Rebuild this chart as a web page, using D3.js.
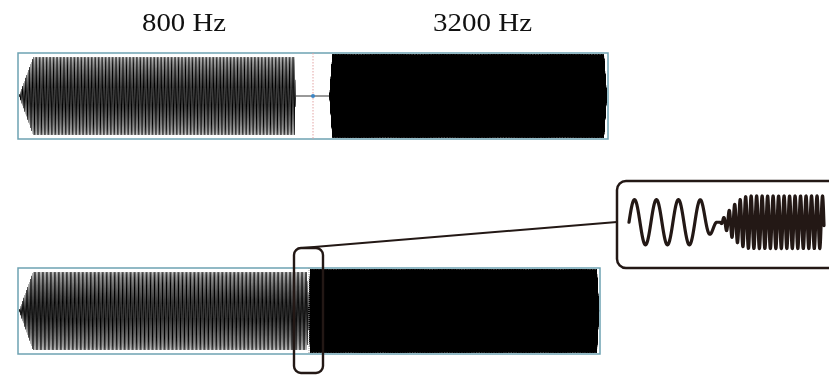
<!DOCTYPE html>
<html>
<head>
<meta charset="utf-8">
<script src="https://cdn.jsdelivr.net/npm/d3@7"></script>
<style>
  html, body { margin: 0; padding: 0; background: #fff; }
  #wrap { position: relative; width: 829px; height: 378px; overflow: hidden; }
  #wave, #chart { position: absolute; left: 0; top: 0; }
</style>
</head>
<body>
<div id="wrap">
  <canvas id="wave" width="829" height="378"></canvas>
  <svg id="chart" width="829" height="378"></svg>
</div>
<script>
// ---- tones ----
const toneLabels = ["800 Hz", "3200 Hz"];
const toneFreqs = [800, 3200];          // Hz
const sampleRate = 44100;               // samples per second
const trackSeconds = 2.0;               // length of each track
const cursorSeconds = 1.0;              // edit point

// upper track: the two tones placed one after the other with silence between (s)
const splitStart   = [0.003, 1.055];
const splitEnd     = [0.942, 1.997];
const splitFadeIn  = [0.048, 0.010];
const splitFadeOut = [0.004, 0.010];
const splitGain    = [0.90, 0.98];

// lower track: the same tones joined by a short crossfade (s)
const joinStart   = [0.003, 0.997];
const joinEnd     = [1.000, 1.998];
const joinFadeIn  = [0.048, 0.006];
const joinFadeOut = [0.006, 0.008];
const joinGain    = [0.90, 0.98];

// close-up of the crossfade (ms)
const detailSpan    = [0, 11.1];
const detailStart   = [0.0, 5.2];
const detailEnd     = [5.0, 11.1];
const detailFadeIn  = [0.0, 1.7];
const detailFadeOut = [1.0, 0.0];
const detailGain    = [0.86, 1.0];

const ink = "#231815";

// ---- helpers ----
function gainAt(t, s, e, fi, fo, curve) {
  if (t < s || t > e) return 0;
  let g = 1;
  if (fi > 0) g = Math.min(g, (t - s) / fi);
  if (fo > 0) g = Math.min(g, (e - t) / fo);
  g = Math.max(0, Math.min(1, g));
  return curve ? Math.sin(g * Math.PI / 2) : g;
}

// sum of tones, each with its own gain envelope; tSec converts the time unit to seconds
function synth(n, timeAt, tSec, starts, ends, fins, fouts, gains, curve) {
  const t = new Float64Array(n), v = new Float64Array(n);
  for (let i = 0; i < n; i++) {
    const ti = timeAt(i);
    let s = 0;
    for (let j = 0; j < toneFreqs.length; j++) {
      const g = gainAt(ti, starts[j], ends[j], fins[j], fouts[j], curve);
      if (g > 0) s += gains[j] * g * Math.sin(2 * Math.PI * toneFreqs[j] * ti * tSec);
    }
    t[i] = ti; v[i] = s;
  }
  return { t, v, n };
}

// ---- layout scales ----
const topX = d3.scaleLinear().domain([0, trackSeconds]).range([18, 608]);
const topY = d3.scaleLinear().domain([-1, 1]).range([139, 53]);
const botX = d3.scaleLinear().domain([0, trackSeconds]).range([18, 600]);
const botY = d3.scaleLinear().domain([-1, 1]).range([354, 268]);
const detX = d3.scaleLinear().domain(detailSpan).range([629, 824]);
const detY = d3.scaleLinear().domain([-1, 1]).range([248.5, 196]);

// ---- waveform tracks: every sample traced at high resolution, then shrunk ----
const canvas = document.getElementById("wave");
const ctx = canvas.getContext("2d");
const SS = 8;

function drawTrack(x, y, wave) {
  const [x0, x1] = x.range();
  const [yb, yt] = y.range();
  const w = x1 - x0, h = yb - yt;
  const off = document.createElement("canvas");
  off.width = Math.ceil(w * SS); off.height = Math.ceil(h * SS);
  const o = off.getContext("2d");
  o.setTransform(SS, 0, 0, SS, -x0 * SS, -yt * SS);
  o.beginPath();
  d3.line().x(i => x(wave.t[i])).y(i => y(wave.v[i])).context(o)(d3.range(wave.n));
  o.lineWidth = 1.25 / SS;
  o.strokeStyle = "#000";
  o.stroke();
  ctx.imageSmoothingEnabled = true;
  ctx.imageSmoothingQuality = "low";
  ctx.drawImage(off, x0, yt, w, h);
}

const nSamples = Math.round(trackSeconds * sampleRate);
const splitWave = synth(nSamples, i => i / sampleRate, 1, splitStart, splitEnd, splitFadeIn, splitFadeOut, splitGain, false);
const joinWave = synth(nSamples, i => i / sampleRate, 1, joinStart, joinEnd, joinFadeIn, joinFadeOut, joinGain, false);
drawTrack(topX, topY, splitWave);
drawTrack(botX, botY, joinWave);

// ---- overlay ----
const svg = d3.select("#chart");

svg.selectAll("text.tone")
  .data(toneLabels)
  .join("text")
  .attr("class", "tone")
  .attr("x", (d, i) => [184, 482.5][i])
  .attr("y", 31)
  .attr("text-anchor", "middle")
  .attr("font-family", "'Liberation Serif', 'Times New Roman', Times, serif")
  .attr("font-size", 26)
  .attr("textLength", (d, i) => [84, 99][i])
  .attr("lengthAdjust", "spacingAndGlyphs")
  .attr("fill", "#111")
  .text(d => d);

// centre line of the upper track through the silence
svg.append("line")
  .attr("x1", topX(splitEnd[0])).attr("x2", topX(splitStart[1]))
  .attr("y1", topY(0)).attr("y2", topY(0))
  .attr("stroke", "#333").attr("stroke-width", 1);

// track frames
[[topX, topY], [botX, botY]].forEach(([x, y]) => {
  svg.append("rect")
    .attr("x", x.range()[0]).attr("y", y.range()[1])
    .attr("width", x.range()[1] - x.range()[0])
    .attr("height", y.range()[0] - y.range()[1])
    .attr("fill", "none")
    .attr("stroke", "#6ea2b2")
    .attr("stroke-width", 1.5);
});

// edit-point cursors
svg.append("line")
  .attr("x1", topX(cursorSeconds)).attr("x2", topX(cursorSeconds))
  .attr("y1", topY.range()[1]).attr("y2", topY.range()[0])
  .attr("stroke", "#e3a4a4").attr("stroke-width", 1)
  .attr("stroke-dasharray", "1.5,1.5");
svg.append("circle")
  .attr("cx", topX(cursorSeconds)).attr("cy", topY(0)).attr("r", 2)
  .attr("fill", "#3d86c6");
svg.append("line")
  .attr("x1", botX(cursorSeconds)).attr("x2", botX(cursorSeconds))
  .attr("y1", botY.range()[1]).attr("y2", botY.range()[0])
  .attr("stroke", "#9a9a9a").attr("stroke-width", 1)
  .attr("stroke-dasharray", "1,1");

// highlight around the crossfade and the leader to the close-up
svg.append("rect")
  .attr("x", 294).attr("y", 248).attr("width", 29).attr("height", 125)
  .attr("rx", 7)
  .attr("fill", "none").attr("stroke", ink).attr("stroke-width", 2.4);
svg.append("line")
  .attr("x1", 302).attr("y1", 248).attr("x2", 617).attr("y2", 222)
  .attr("stroke", ink).attr("stroke-width", 2);

// close-up box
svg.append("rect")
  .attr("x", 617).attr("y", 181).attr("width", 260).attr("height", 87)
  .attr("rx", 9)
  .attr("fill", "#fff").attr("stroke", ink).attr("stroke-width", 2.5);

const nDetail = 3000;
const detailWave = synth(nDetail + 1,
  i => detailSpan[0] + (detailSpan[1] - detailSpan[0]) * i / nDetail, 0.001,
  detailStart, detailEnd, detailFadeIn, detailFadeOut, detailGain, true);
svg.append("path")
  .attr("d", d3.line().x(i => detX(detailWave.t[i])).y(i => detY(detailWave.v[i]))(d3.range(detailWave.n)))
  .attr("fill", "none")
  .attr("stroke", ink)
  .attr("stroke-width", 3.2)
  .attr("stroke-linejoin", "round")
  .attr("stroke-linecap", "round");
</script>
</body>
</html>
